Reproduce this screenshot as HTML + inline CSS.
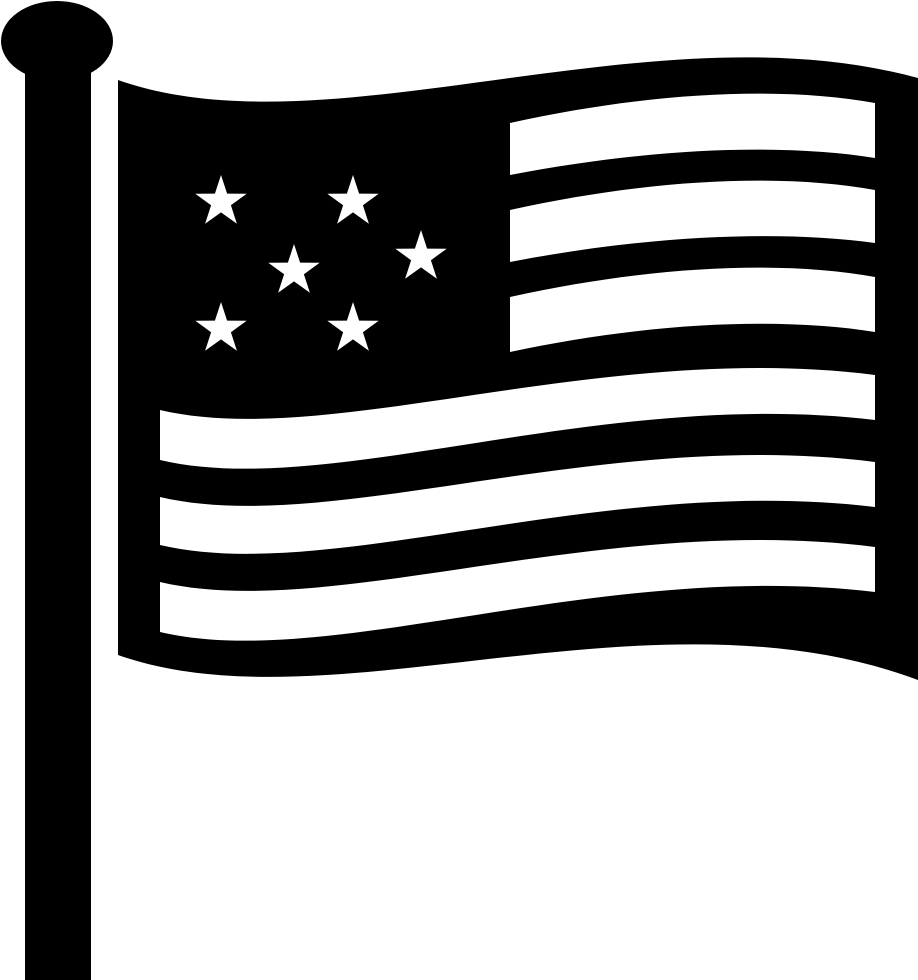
<!DOCTYPE html>
<html><head><meta charset="utf-8"><style>html,body{margin:0;padding:0;background:#fff}svg{display:block}</style></head>
<body>
<svg width="918" height="980" viewBox="0 0 918 980" xmlns="http://www.w3.org/2000/svg">
<defs>
<polygon id="st" points="0,-27 6.1,-8.4 25.7,-8.3 9.9,3.2 15.9,21.8 0,10.4 -15.9,21.8 -9.9,3.2 -25.7,-8.3 -6.1,-8.4" fill="#fff"/>
</defs>
<rect x="25" y="60" width="66" height="920" fill="#000"/>
<ellipse cx="57" cy="41" rx="56" ry="40" fill="#000"/>
<path d="M118,80 C330,155 650,5 918,78 L918,680 C650,580 330,730 118,655 Z" fill="#000"/>
<g fill="#fff">
<path d="M510,123 C650,92 780,86 875,103 L875,158 C780,143 650,148 510,175 Z"/>
<path d="M510,210 C650,179 780,173 875,190 L875,243 C780,230 650,235 510,262 Z"/>
<path d="M510,297 C650,266 780,260 875,277 L875,332 C780,317 650,322 510,352 Z"/>
<path d="M160,410 C330,450 600,340 875,375 L875,420 C600,387 330,500 160,460 Z"/>
<path d="M160,497 C330,537 600,427 875,462 L875,507 C600,474 330,585 160,545 Z"/>
<path d="M160,582 C330,622 600,512 875,547 L875,592 C600,559 330,672 160,632 Z"/>
</g>
<use href="#st" x="221" y="202"/>
<use href="#st" x="353" y="202"/>
<use href="#st" x="294" y="271"/>
<use href="#st" x="421" y="257"/>
<use href="#st" x="221" y="329"/>
<use href="#st" x="353" y="329"/>
</svg>
</body></html>
